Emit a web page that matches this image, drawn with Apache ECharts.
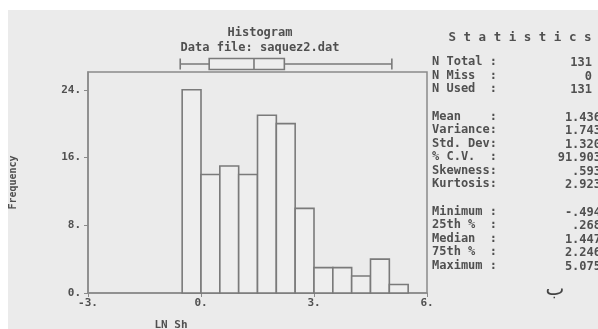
<!DOCTYPE html>
<html>
<head>
<meta charset="utf-8">
<script src="https://cdn.jsdelivr.net/npm/echarts@6/dist/echarts.min.js"></script>
<style>
  html, body { margin: 0; padding: 0; background: #fff; }
  #chart { width: 598px; height: 329px; }
</style>
</head>
<body>
<div id="chart"></div>
<script>
// histogram bins (width 0.5) and counts
const binStarts = [-0.5, 0, 0.5, 1, 1.5, 2, 2.5, 3, 3.5, 4, 4.5, 5];
const binWidth = 0.5;
const counts = [24, 14, 15, 14, 21, 20, 10, 3, 3, 2, 4, 1];

// box plot: min, Q1, median, Q3, max
const boxValues = [-0.494, 0.268, 1.447, 2.246, 5.075];

// statistics panel
const statLabels = [
  'N Total :', 'N Miss  :', 'N Used  :', null,
  'Mean    :', 'Variance:', 'Std. Dev:', '% C.V.  :', 'Skewness:', 'Kurtosis:', null,
  'Minimum :', '25th %  :', 'Median  :', '75th %  :', 'Maximum :'
];
const statValues = [
  '131', '0', '131', null,
  '1.436', '1.743', '1.320', '91.903', '.593', '2.923', null,
  '-.494', '.268', '1.447', '2.246', '5.075'
];

const mono = '"DejaVu Sans Mono", "Liberation Mono", monospace';
const ink = '#505050';
const lineCol = '#8a8a8a';

const chart = echarts.init(document.getElementById('chart'));

const statGraphics = [];
let y = 63;
statLabels.forEach((lab, i) => {
  if (lab === null) { y += 14; return; }
  const isInt = statValues[i].indexOf('.') < 0;
  statGraphics.push({
    type: 'text', left: 432, top: y - 7,
    style: { text: lab, font: 'bold 12px ' + mono, fill: ink }
  });
  statGraphics.push({
    type: 'text', x: isInt ? 592 : 601, y: y,
    style: { text: statValues[i], font: 'bold 12px ' + mono, fill: ink, align: 'right', verticalAlign: 'middle' }
  });
  y += 13.5;
});

const option = {
  backgroundColor: '#fff',
  animation: false,
  title: {
    text: 'Histogram\nData file: saquez2.dat',
    left: 255,
    top: 20,
    textAlign: 'center',
    textStyle: { fontFamily: mono, fontSize: 12, fontWeight: 'bold', color: ink, lineHeight: 15 }
  },
  graphic: [
    { type: 'rect', shape: { x: 8, y: 10, width: 590, height: 319 }, style: { fill: '#ebebeb' }, z: -10 },
    {
      type: 'text', x: 520, y: 38,
      style: { text: 'S t a t i s t i c s', font: 'bold 12.5px ' + mono, fill: ink, align: 'center', verticalAlign: 'middle' }
    },
    {
      type: 'text', x: 171, y: 325,
      style: { text: 'LN Sh', font: 'bold 11px ' + mono, fill: ink, align: 'center', verticalAlign: 'middle' }
    },
    {
      type: 'text', x: 555, y: 290,
      style: { text: 'ب', font: '20px "DejaVu Sans", "Noto Sans", sans-serif', fill: '#444', align: 'center', verticalAlign: 'middle' }
    }
  ].concat(statGraphics),
  grid: [
    { left: 85, top: 72, width: 342, height: 221, show: true, borderColor: lineCol, borderWidth: 1.5, backgroundColor: 'transparent' },
    { left: 85, top: 58, width: 342, height: 12 }
  ],
  xAxis: [
    {
      type: 'value', gridIndex: 0, min: -3, max: 6, interval: 3,
      splitLine: { show: false },
      axisLine: { show: true, onZero: false, lineStyle: { color: lineCol, width: 1.5 } },
      axisTick: { show: true, length: 4, lineStyle: { color: lineCol } },
      axisLabel: { margin: 5, color: ink, fontFamily: mono, fontSize: 11, fontWeight: 'bold', formatter: v => v + '.' }
    },
    { type: 'value', gridIndex: 1, min: -3, max: 6, show: false }
  ],
  yAxis: [
    {
      type: 'value', gridIndex: 0, min: 0, max: 26.1, interval: 8,
      name: 'Frequency', nameLocation: 'middle', nameGap: 70, nameRotate: 90,
      nameTextStyle: { fontFamily: mono, fontSize: 10, fontWeight: 'bold', color: ink },
      splitLine: { show: false },
      axisLine: { show: true, onZero: false, lineStyle: { color: lineCol, width: 1.5 } },
      axisTick: { show: true, length: 4, lineStyle: { color: lineCol } },
      axisLabel: { margin: 7, color: ink, fontFamily: mono, fontSize: 11, fontWeight: 'bold', showMaxLabel: false, formatter: v => v + '.' }
    },
    { type: 'category', gridIndex: 1, data: ['box'], show: false }
  ],
  series: [
    {
      type: 'custom',
      xAxisIndex: 0, yAxisIndex: 0,
      data: binStarts.map((b, i) => [b, b + binWidth, counts[i]]),
      renderItem: function (params, api) {
        const p0 = api.coord([api.value(0), 0]);
        const p1 = api.coord([api.value(1), api.value(2)]);
        return {
          type: 'rect',
          shape: { x: p0[0], y: p1[1], width: p1[0] - p0[0], height: p0[1] - p1[1] },
          style: { fill: '#eeeeee', stroke: '#7a7a7a', lineWidth: 1.6 }
        };
      }
    },
    {
      type: 'boxplot',
      xAxisIndex: 1, yAxisIndex: 1,
      boxWidth: [11, 11],
      data: [boxValues],
      itemStyle: { color: '#eeeeee', borderColor: '#7a7a7a', borderWidth: 1.6 }
    }
  ]
};

chart.setOption(option);
</script>
</body>
</html>
